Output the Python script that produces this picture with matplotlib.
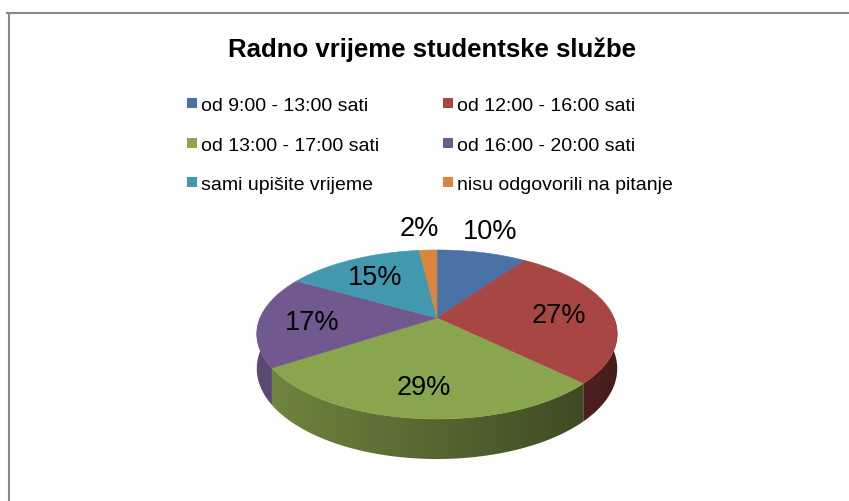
import numpy as np
import matplotlib
matplotlib.use("Agg")
import matplotlib.pyplot as plt
from matplotlib.patches import Polygon, Rectangle
from matplotlib.colors import to_rgb

plt.rcParams['font.family'] = ['Liberation Sans', 'DejaVu Sans']

title = "Radno vrijeme studentske službe"
categories = ["od 9:00 - 13:00 sati", "od 12:00 - 16:00 sati",
              "od 13:00 - 17:00 sati", "od 16:00 - 20:00 sati",
              "sami upišite vrijeme", "nisu odgovorili na pitanje"]
shares = [10, 27, 29, 17, 15, 2]
colors = ["#4A72A6", "#A84644", "#89A54E", "#71588F", "#4198AF", "#DB843D"]

# pie geometry in pixels
cx, cy = 437, 319
rx, ry = 177, 84.5
persp = 0.195
depth = 33.5


def project(theta, r=1.0, drop=0.0):
    # theta in degrees, clockwise from 12 o'clock
    t = np.radians(theta)
    u = r * np.sin(t)
    v = -r * np.cos(t)
    s = 1 + persp * v
    return cx + rx * u * s, cy + ry * v * s + drop * s


fig = plt.figure(figsize=(8.49, 5.02), dpi=100)
ax = fig.add_axes([0, 0, 1, 1])
ax.set_xlim(0, 849)
ax.set_ylim(502, 0)
ax.axis('off')

# chart frame
ax.plot([6, 849], [14, 14], color='#878787', lw=1.5, solid_capstyle='butt')
ax.plot([9, 9], [14, 502], color='#878787', lw=1.5, solid_capstyle='butt')

total = float(sum(shares))
bounds = np.concatenate([[0], np.cumsum(shares) / total * 360])

# outer side of the pie (front half), shaded darker towards the right
gx = np.linspace(cx - rx * 1.1, cx + rx * 1.1, 400)
light = 0.62 - 0.2 * (gx - cx) / rx
for i, col in enumerate(colors):
    a0, a1 = max(bounds[i], 90), min(bounds[i + 1], 270)
    if a1 <= a0:
        continue
    ts = np.linspace(a0, a1, 100)
    top = [project(t) for t in ts]
    bot = [project(t, drop=depth) for t in ts[::-1]]
    side = Polygon(top + bot, closed=True, facecolor='none', edgecolor='none')
    ax.add_patch(side)
    grad = np.clip(np.outer(light, to_rgb(col)), 0, 1)[None, :, :]
    im = ax.imshow(grad, extent=(gx[0], gx[-1], cy + ry * 2.5, cy - 5),
                   aspect='auto', interpolation='bilinear', zorder=1)
    im.set_clip_path(side)

# top face
for i, col in enumerate(colors):
    ts = np.linspace(bounds[i], bounds[i + 1], 120)
    pts = [(cx, cy)] + [project(t) for t in ts]
    ax.add_patch(Polygon(pts, closed=True, facecolor=col, edgecolor=col,
                         lw=0.4, zorder=2))

# percentage labels
for i, val in enumerate(shares):
    mid = (bounds[i] + bounds[i + 1]) / 2
    if val <= 10:
        x, y = project(mid)
        x += 9 * np.sign(np.sin(np.radians(mid)))
        y -= 24
    else:
        x, y = project(mid, r=0.7)
    ax.text(x, y + 9, f"{val}%", ha='center', va='baseline', fontsize=19.5,
            color='black', zorder=5)

# title
ax.text(432, 57, title, ha='center', va='baseline', fontsize=18.5,
        fontweight='bold', color='black')

# legend in two columns
col_x = [187, 443]
row_y = [104, 144, 183]
for i, (lab, col) in enumerate(zip(categories, colors)):
    x = col_x[i % 2]
    y = row_y[i // 2]
    ax.add_patch(Rectangle((x, y - 5), 10, 10, facecolor=col, edgecolor='none'))
    ax.text(x + 14, y + 7, lab, ha='left', va='baseline', fontsize=14,
            color='black')

ax.set_xlim(0, 849)
ax.set_ylim(502, 0)
fig.savefig('out.png', dpi=100)
